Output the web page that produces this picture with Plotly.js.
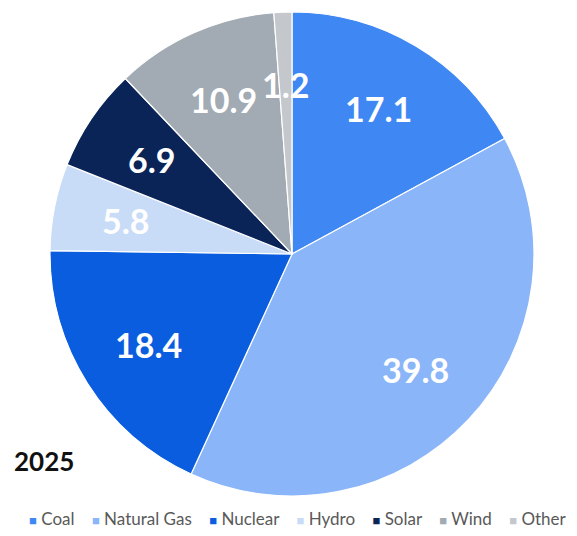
<!DOCTYPE html>
<html>
<head>
<meta charset="utf-8">
<script src="https://cdn.plot.ly/plotly-3.0.1.min.js"></script>
<style>html,body{margin:0;padding:0;background:#fff;}#chart{width:577px;height:536px;}</style>
</head>
<body>
<div id="chart"></div>
<script>
const categories = ["Coal", "Natural Gas", "Nuclear", "Hydro", "Solar", "Wind", "Other"];
const shares = [17.1, 39.8, 18.4, 5.8, 6.9, 10.9, 1.2];
const colors = ["#3F88F4", "#8AB5F8", "#0A5DDE", "#C9DCF7", "#0B2458", "#A2AAB3", "#C4C8CC"];
const yearLabel = "2025";

const W = 577, H = 536;
const M = {l: 50, r: 43, t: 12, b: 40};
const pw = W - M.l - M.r, ph = H - M.t - M.b;
const FONT = "Lato, 'Open Sans', sans-serif";

const trace = {
  type: "pie",
  labels: categories,
  values: shares,
  sort: false,
  direction: "clockwise",
  rotation: 0,
  marker: {colors: colors, line: {color: "#ffffff", width: 1.2}},
  textinfo: "none",
  hoverinfo: "label+value",
  showlegend: false
};

// value labels placed along each slice's mid-angle, computed from the data
const total = shares.reduce((a, b) => a + b, 0);
const cx = pw / 2, cy = ph / 2, R = Math.min(pw, ph) / 2;
const labelFrac = 0.70;
const annotations = [];
let cum = 0;
shares.forEach((v, i) => {
  const mid = (cum + v / 2) / total * 2 * Math.PI;
  cum += v;
  const px = cx + labelFrac * R * Math.sin(mid);
  const py = cy - labelFrac * R * Math.cos(mid);
  annotations.push({
    text: v.toFixed(1), xref: "paper", yref: "paper",
    x: px / pw, y: 1 - py / ph, xanchor: "center", yanchor: "middle",
    showarrow: false,
    font: {family: FONT, size: 34, color: "#ffffff", weight: 700}
  });
});

// year label
annotations.push({
  text: yearLabel, xref: "paper", yref: "paper",
  x: (12 - M.l) / pw, y: 1 - (461 - M.t) / ph,
  xanchor: "left", yanchor: "middle", showarrow: false,
  font: {family: FONT, size: 26, color: "#111111", weight: 700}
});

// legend row built from categories and colours
const legendText = categories.map((c, i) =>
  `<span style="color:${colors[i]};font-size:13px">■</span> ${c}`
).join("\u00a0\u00a0\u00a0\u00a0");
annotations.push({
  text: legendText, xref: "paper", yref: "paper",
  x: (298 - M.l) / pw, y: 1 - (518 - M.t) / ph,
  xanchor: "center", yanchor: "middle", showarrow: false,
  font: {family: FONT, size: 17, color: "#595959"}
});

const layout = {
  width: W, height: H,
  margin: {l: M.l, r: M.r, t: M.t, b: M.b, autoexpand: false},
  paper_bgcolor: "#ffffff",
  showlegend: false,
  annotations: annotations
};

Plotly.newPlot("chart", [trace], layout, {displayModeBar: false, staticPlot: true});
</script>
</body>
</html>
